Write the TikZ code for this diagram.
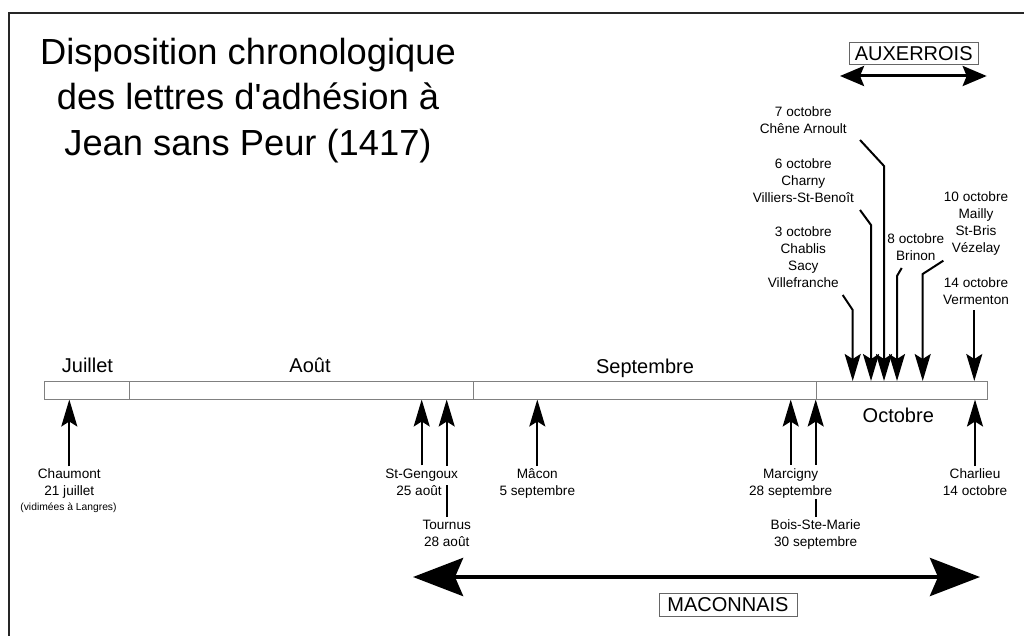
\documentclass[tikz,border=0pt]{standalone}
\usepackage{fontspec}
\setmainfont{Liberation Sans}[Ligatures=TeXOff]
\usetikzlibrary{arrows.meta}
\pgfdeclarelayer{bg}
\pgfsetlayers{bg,main}
\newcommand\lblfont{\fontsize{13.6}{17}\selectfont}
\begin{document}
\begin{tikzpicture}[x=1pt,y=-1pt,
  frameline/.style={draw=black!85,line width=2pt},
  cell/.style={draw=black!50,line width=1pt,fill=white,inner sep=0pt,minimum height=17.5pt,anchor=north west},
  month/.style={font=\fontsize{20}{24}\selectfont,anchor=base,inner sep=0pt},
  lbl/.style={font=\lblfont,align=center,inner sep=0pt,anchor=north},
  lblw/.style={lbl,fill=white,inner sep=1pt},
  uparrow/.style={line width=2pt,-{Stealth[length=27pt,width=16pt,inset=5pt]}},
  downarrow/.style={line width=2pt,-{Stealth[length=27pt,width=16pt,inset=5pt]}},
  regionbox/.style={draw=black!60,line width=1pt,inner sep=0pt,font=\fontsize{20}{24}\selectfont},
  bigarrow/.style={line width=4.5pt,{Stealth[length=50pt,width=38pt,inset=8pt]}-{Stealth[length=50pt,width=38pt,inset=8pt]}},
  midarrow/.style={line width=3pt,{Stealth[length=24pt,width=20pt,inset=4pt]}-{Stealth[length=24pt,width=20pt,inset=4pt]}}
]
\useasboundingbox (0,0) rectangle (1024,636);
% frame
\draw[frameline] (9,636) -- (9,13) -- (1024,13);
% title
\node[font=\fontsize{36.3}{45.5}\selectfont,align=center,inner sep=0pt,anchor=north] (title) at (248,32)
  {\strut Disposition chronologique\\des lettres d'adhésion à\\Jean sans Peur (1417)};
% timeline cells
\node[cell,minimum width=85pt] (juil) at (44,381) {};
\node[cell,minimum width=344pt] (aout) at (129,381) {};
\node[cell,minimum width=342.7pt] (sept) at (473,381) {};
\node[cell,minimum width=171.3pt] (oct) at (815.7,381) {};
% month names
\node[month] (mJuil) at (87.5,372.7) {Juillet};
\node[month] (mAout) at (310,372.7) {Août};
\node[month] (mSept) at (645,373) {Septembre};
\node[month] (mOct) at (898.3,422.3) {Octobre};
% lower labels
\node[lbl] (lChau) at (69.3,466.4) {\strut Chaumont\\21 juillet};
\node[font=\fontsize{10.3}{12}\selectfont,anchor=base,inner sep=0pt] (lChauN) at (68.5,510) {(vidimées à Langres)};
\node[lblw] (lStG) at (421.7,465.4) {\strut St-Gengoux};
\node[font=\lblfont,anchor=base,inner sep=0pt] (lStGd) at (419,495) {25 août};
\node[lbl] (lTour) at (446.7,517.1) {\strut Tournus\\28 août};
\node[lbl] (lMacon) at (537.3,466.1) {\strut Mâcon\\5 septembre};
\node[lblw] (lMarc) at (790.7,465.1) {\strut Marcigny\\28 septembre};
\node[lbl] (lBois) at (815.7,517.1) {\strut Bois-Ste-Marie\\30 septembre};
\node[lbl] (lCharl) at (975,466.1) {\strut Charlieu\\14 octobre};
% upper labels
\node[lbl] (l7) at (803.3,104.1) {\strut 7 octobre\\Chêne Arnoult};
\node[lbl] (l6) at (803.3,156.4) {\strut 6 octobre\\Charny\\Villiers-St-Benoît};
\node[lbl] (l3) at (803.3,224.1) {\strut 3 octobre\\Chablis\\Sacy\\Villefranche};
\node[lbl] (l8) at (915.8,231.4) {\strut 8 octobre\\Brinon};
\node[lbl] (l10) at (976,189.6) {\strut 10 octobre\\Mailly\\St-Bris\\Vézelay};
\node[lbl] (l14) at (976,275.4) {\strut 14 octobre\\Vermenton};
% arrows
\begin{pgfonlayer}{bg}
\draw[uparrow] (lChau.north) -- (lChau.north |- juil.south);
\draw[uparrow] (lStG.north) -- (lStG.north |- aout.south);
\draw[uparrow] (lTour.north) -- (lTour.north |- aout.south);
\draw[uparrow] (lMacon.north) -- (lMacon.north |- sept.south);
\draw[uparrow] (lMarc.north) -- (lMarc.north |- sept.south);
\draw[uparrow] (lBois.north) -- (lBois.north |- oct.south);
\draw[uparrow] (lCharl.north) -- (lCharl.north |- oct.south);
\end{pgfonlayer}
\coordinate (k3) at (842.7,295); \coordinate (b3) at (852.7,310);
\coordinate (k6) at (860,210);   \coordinate (b6) at (871,225);
\coordinate (k7) at (860,140);   \coordinate (b7) at (884,166);
\coordinate (k8) at (901.7,268); \coordinate (b8) at (897,276);
\coordinate (k10) at (943.3,260.7); \coordinate (b10) at (922.7,274);
\coordinate (b14) at (974.3,310);
\draw[downarrow] (k3) -- (b3) -- (b3 |- oct.north);
\draw[downarrow] (k6) -- (b6) -- (b6 |- oct.north);
\draw[downarrow] (k7) -- (b7) -- (b7 |- oct.north);
\draw[downarrow] (k8) -- (b8) -- (b8 |- oct.north);
\draw[downarrow] (k10) -- (b10) -- (b10 |- oct.north);
\draw[downarrow] (b14) -- (b14 |- oct.north);
% regions
\node[regionbox,minimum width=129pt,minimum height=22pt] (aux) at (913.7,54) {AUXERROIS};
\coordinate (xL) at (840,76); \coordinate (xR) at (986.7,76);
\draw[midarrow] (xL) -- (xR);
\coordinate (mL) at (413,577); \coordinate (mR) at (980,577);
\draw[bigarrow] (mL) -- (mR);
\node[regionbox,minimum width=138pt,minimum height=23pt] (mac) at (728,605) {MACONNAIS};
\end{tikzpicture}
\end{document}
